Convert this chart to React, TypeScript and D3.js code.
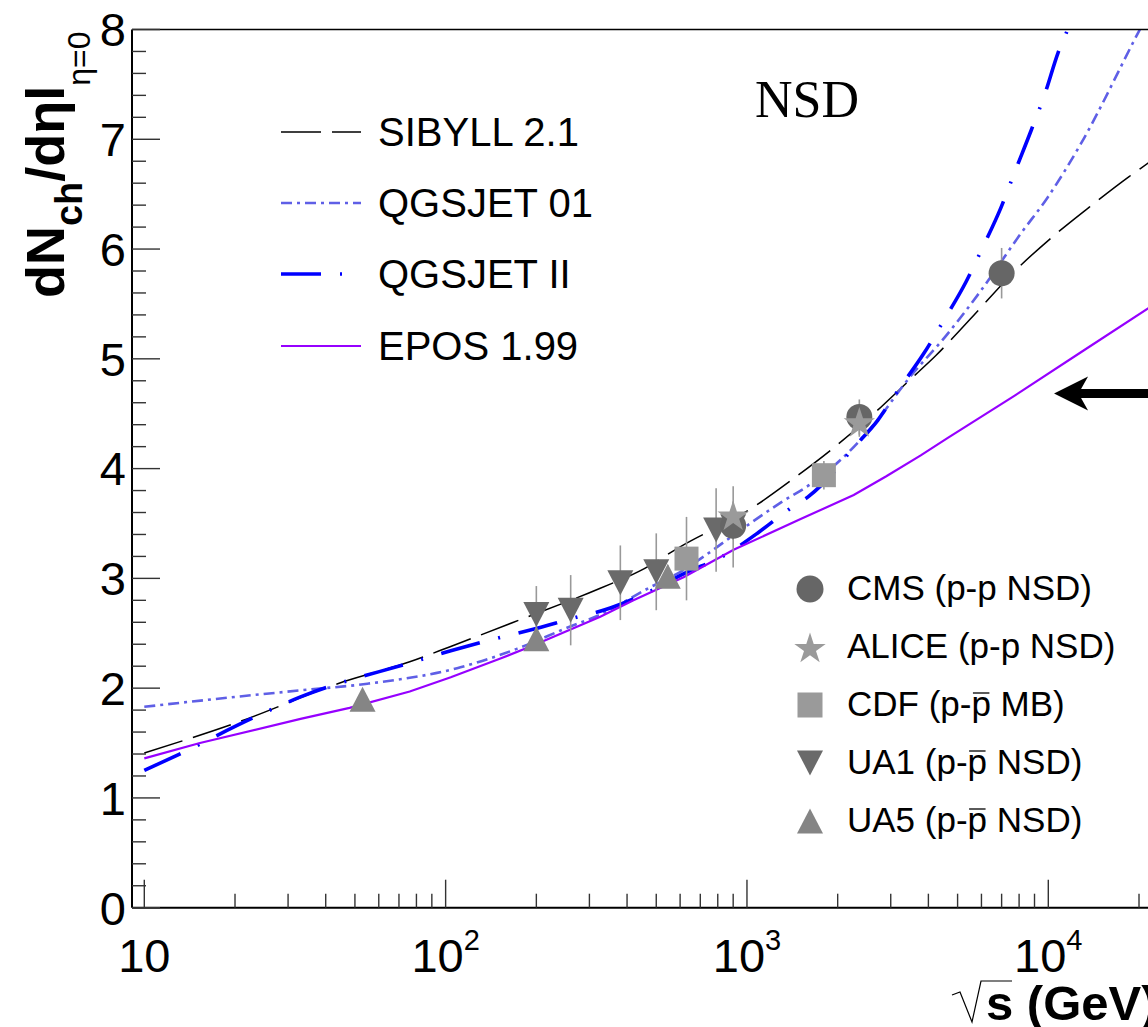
import React, { useLayoutEffect, useRef, useState } from "react";
import * as d3 from "d3";

const W = 1148;
const H = 1027;

// ---- model curves: [sqrt(s) GeV, dNch/deta] ----
const sibyll: [number, number][] = [
  [10, 1.41], [20, 1.68], [46, 2.06], [76, 2.24], [104, 2.38], [168, 2.6], [326, 2.91],
  [443, 3.07], [602, 3.29], [1052, 3.65], [1429, 3.91], [1941, 4.19], [2634, 4.5],
  [3445, 4.8], [4236, 5.03], [5500, 5.36], [7810, 5.81], [10210, 6.1], [13650, 6.38],
  [18540, 6.66], [21610, 6.79], [26000, 6.95],
];
const qgsjet01: [number, number][] = [
  [10, 1.83], [20, 1.92], [33, 1.98], [55, 2.04], [112, 2.19], [173, 2.36], [253, 2.55],
  [326, 2.67], [478, 2.92], [602, 3.06], [702, 3.18], [953, 3.44], [1294, 3.69], [1628, 3.86],
  [2047, 4.08], [2634, 4.4], [3418, 4.81], [4640, 5.23], [5970, 5.62], [8100, 6.14],
  [9950, 6.47], [12830, 6.96], [19860, 7.97], [24000, 8.4],
];
const qgsjet2: [number, number][] = [
  [10, 1.25], [13.1, 1.4], [23, 1.73], [33, 1.92], [76, 2.23], [104, 2.34], [141, 2.44],
  [191, 2.53], [259, 2.63], [352, 2.73], [467, 2.87], [635, 3.06], [817, 3.19], [1094, 3.42],
  [1365, 3.62], [1591, 3.74], [2001, 4.01], [2177, 4.14], [2716, 4.44], [3168, 4.71],
  [3865, 5.05], [4500, 5.35], [5330, 5.7], [6070, 6.02], [6970, 6.38], [7760, 6.71],
  [8770, 7.08], [9760, 7.42], [10780, 7.79], [11550, 7.99], [12800, 8.4],
];
const epos: [number, number][] = [
  [10, 1.36], [15.3, 1.5], [33, 1.72], [48, 1.82], [76, 1.97], [104, 2.1], [152, 2.27],
  [196, 2.39], [326, 2.65], [420, 2.8], [616, 3.01], [903, 3.26], [1507, 3.54], [2261, 3.76],
  [2900, 3.93], [3773, 4.12], [4640, 4.28], [7690, 4.66], [12830, 5.06], [21430, 5.46], [26000, 5.62],
];

// ---- data points: [sqrt(s), value, error] ----
const cms: [number, number, number][] = [[900, 3.48, 0.13], [2360, 4.47, 0.16], [7000, 5.78, 0.23]];
const alice: [number, number, number][] = [[900, 3.58, 0.12], [2360, 4.43, 0.14]];
const cdf: [number, number, number][] = [[630, 3.18, 0.38], [1800, 3.94, 0.13]];
const ua1: [number, number, number][] = [
  [200, 2.67, 0.26], [260, 2.71, 0.32], [380, 2.96, 0.34], [500, 3.06, 0.35], [790, 3.44, 0.38], [900, 3.47, 0.37],
];
const ua5: [number, number, number][] = [[53, 1.9, 0.05], [200, 2.45, 0.1], [546, 3.02, 0.1]];

const yMajor = [0, 1, 2, 3, 4, 5, 6, 7, 8];
const xMajor = [10, 100, 1000, 10000];
const xLabels = ["10", "10", "10", "10"];
const xExps = ["", "2", "3", "4"];

const modelLegend = ["SIBYLL 2.1", "QGSJET 01", "QGSJET II", "EPOS 1.99"];
const dataLegend = ["CMS (p-p NSD)", "ALICE (p-p NSD)", "CDF (p-", "UA1 (p-", "UA5 (p-"];
const dataLegendTail = ["", "", "p", "p", "p"];
const dataLegendEnd = ["", "", " MB)", " NSD)", " NSD)"];

const SANS = "'Liberation Sans', Arial, Helvetica, sans-serif";
const SERIF = "'Liberation Serif', 'Times New Roman', serif";

const left = 132;
const top = 29.5;
const bottom = 907.7;

const x = d3.scaleLog().domain([10, 10000]).range([144.3, 1048.3]);
const y = d3.scaleLinear().domain([0, 8]).range([bottom, top]);

const styles = [
  { color: "#000000", width: 1.5, dash: "40 11" },
  { color: "#5f5fe6", width: 2.6, dash: "11 5 3 5" },
  { color: "#0000ff", width: 3.6, dash: "40 19 2 19" },
  { color: "#9600ff", width: 2.2, dash: "" },
];

const C_CMS = "#666666";
const C_ALICE = "#9a9a9a";
const C_CDF = "#9a9a9a";
const C_UA1 = "#6a6a6a";
const C_UA5 = "#858585";

const starPath = d3.symbol(d3.symbolStar, (16.5 * 16.5) / 0.8908130915292852)();

function tri(cx: number, cy: number, up: boolean) {
  const hw = 13, hh = 12.5;
  return up
    ? `M${cx - hw},${cy + hh}L${cx + hw},${cy + hh}L${cx},${cy - hh}Z`
    : `M${cx - hw},${cy - hh}L${cx + hw},${cy - hh}L${cx},${cy + hh}Z`;
}

export default function App() {
  const lineSmooth = d3
    .line<[number, number]>()
    .x((d) => x(d[0]))
    .y((d) => y(d[1]))
    .curve(d3.curveMonotoneX);
  const lineLin = d3
    .line<[number, number]>()
    .x((d) => x(d[0]))
    .y((d) => y(d[1]));

  const curves = [sibyll, qgsjet01, qgsjet2, epos];

  const xMinor: number[] = [];
  for (let e = 1; e <= 4; e++) {
    for (let k = 2; k <= 9; k++) {
      const v = k * Math.pow(10, e);
      if (x(v) < W) xMinor.push(v);
    }
  }
  const yMinor: number[] = [];
  for (let i = 0; i <= 40; i++) {
    if (i % 5 !== 0) yMinor.push(i / 5);
  }

  const allPts = [...ua1, ...ua5, ...cdf, ...cms, ...alice];

  const legX = 810;
  const legY = [589, 647, 705, 763, 821];

  const textRefs = useRef<(SVGTextElement | null)[]>([]);
  const [bars, setBars] = useState<{ x1: number; x2: number; y: number }[]>([]);
  useLayoutEffect(() => {
    const out: { x1: number; x2: number; y: number }[] = [];
    dataLegend.forEach((t, i) => {
      const el = textRefs.current[i];
      if (!el || !dataLegendTail[i]) return;
      try {
        const ext = el.getExtentOfChar(t.length);
        out.push({ x1: ext.x + 1.5, x2: ext.x + ext.width - 1.5, y: legY[i] + 11 - 23 });
      } catch (e) {
        /* ignore */
      }
    });
    setBars(out);
  }, []);

  const arrowTip: [number, number] = [10450, 4.685];
  const ax = x(arrowTip[0]);
  const ay = y(arrowTip[1]);

  const titleX = 986;
  const titleY = 1020;

  return (
    <svg width={W} height={H} style={{ display: "block", position: "absolute", left: 0, top: 0, background: "#fff" }}>
      <defs>
        <clipPath id="plot">
          <rect x={left} y={top} width={W - left} height={bottom - top} />
        </clipPath>
      </defs>
      <rect x={0} y={0} width={W} height={H} fill="#fff" />

      <g clipPath="url(#plot)">
        {curves.map((c, i) => (
          <path
            key={i}
            d={(i === 3 ? lineLin : lineSmooth)(c) || ""}
            fill="none"
            stroke={styles[i].color}
            strokeWidth={styles[i].width}
            strokeDasharray={styles[i].dash || undefined}
          />
        ))}
      </g>

      <g stroke="#999" strokeWidth={1.6}>
        {allPts.map((p, i) => (
          <line key={i} x1={x(p[0])} x2={x(p[0])} y1={y(p[1] - p[2])} y2={y(p[1] + p[2])} />
        ))}
      </g>

      <g>
        {ua1.map((p, i) => (
          <path key={"u1" + i} d={tri(x(p[0]), y(p[1]), false)} fill={C_UA1} />
        ))}
        {ua5.map((p, i) => (
          <path key={"u5" + i} d={tri(x(p[0]), y(p[1]), true)} fill={C_UA5} />
        ))}
        {cdf.map((p, i) => (
          <rect key={"cd" + i} x={x(p[0]) - 12} y={y(p[1]) - 12} width={24} height={24} fill={C_CDF} />
        ))}
        {cms.map((p, i) => (
          <circle key={"cm" + i} cx={x(p[0])} cy={y(p[1])} r={13} fill={C_CMS} />
        ))}
        {alice.map((p, i) => (
          <path key={"al" + i} d={starPath || ""} transform={`translate(${x(p[0])},${y(p[1]) + 2})`} fill={C_ALICE} />
        ))}
      </g>

      <line x1={left} x2={W} y1={top} y2={top} stroke="#000" strokeWidth={1.5} />
      <line x1={left} x2={left} y1={top} y2={bottom} stroke="#000" strokeWidth={2} />
      <line x1={left} x2={W} y1={bottom} y2={bottom} stroke="#000" strokeWidth={2} />

      <g stroke="#333" strokeWidth={1.4}>
        {yMajor.map((v) => (
          <line key={"ym" + v} x1={left} x2={left + 28} y1={y(v)} y2={y(v)} />
        ))}
        {yMinor.map((v) => (
          <line key={"yn" + v} x1={left} x2={left + 14} y1={y(v)} y2={y(v)} />
        ))}
      </g>
      <g stroke="#333" strokeWidth={1.4}>
        {xMajor.map((v) => (
          <line key={"xm" + v} x1={x(v)} x2={x(v)} y1={bottom} y2={bottom - 28} />
        ))}
        {xMinor.map((v) => (
          <line key={"xn" + v} x1={x(v)} x2={x(v)} y1={bottom} y2={bottom - 14} />
        ))}
      </g>

      <g fontFamily={SANS} fontSize={47} textAnchor="end" fill="#000">
        {yMajor.map((v) => (
          <text key={"yl" + v} x={126} y={y(v) + 16.8}>
            {v}
          </text>
        ))}
      </g>

      <g fontFamily={SANS} fill="#000">
        {xMajor.map((v, i) => (
          <text key={"xl" + v} x={x(v)} y={972} fontSize={47} textAnchor="middle">
            {xLabels[i]}
            {xExps[i] && (
              <tspan fontSize={29} dy={-22}>
                {xExps[i]}
              </tspan>
            )}
          </text>
        ))}
      </g>

      <path
        d={`M${titleX - 34},${titleY - 25} L${titleX - 26},${titleY - 28} L${titleX - 14},${titleY + 2} L${titleX - 5},${titleY - 39} L${titleX + 26},${titleY - 39}`}
        fill="none"
        stroke="#000"
        strokeWidth={1.2}
      />
      <text x={titleX} y={titleY} fontFamily={SANS} fontWeight="bold" fontSize={49} fill="#000">
        s (GeV)
      </text>

      <text transform={`translate(64,298) rotate(-90)`} fontFamily={SANS} fontWeight="bold" fontSize={54} fill="#000">
        dN
        <tspan fontSize={38} dy={18}>
          ch
        </tspan>
        <tspan dy={-18}>/dηl</tspan>
        <tspan fontWeight="normal" fontSize={32} dy={26}>
          η=0
        </tspan>
      </text>

      <text x={755} y={117} fontFamily={SERIF} fontSize={52} fill="#000">
        NSD
      </text>

      {modelLegend.map((t, i) => {
        const ly = [132, 203, 274, 346][i];
        return (
          <g key={"ml" + i}>
            <line
              x1={281}
              x2={361}
              y1={ly}
              y2={ly}
              stroke={styles[i].color}
              strokeWidth={styles[i].width}
              strokeDasharray={styles[i].dash || undefined}
            />
            <text x={378} y={ly + 14} fontFamily={SANS} fontSize={40} fill="#000">
              {t}
            </text>
          </g>
        );
      })}

      <circle cx={legX} cy={legY[0]} r={13.5} fill={C_CMS} />
      <path d={starPath || ""} transform={`translate(${legX},${legY[1] + 2})`} fill={C_ALICE} />
      <rect x={legX - 12.5} y={legY[2] - 12.5} width={25} height={25} fill={C_CDF} />
      <path d={tri(legX, legY[3], false)} fill={C_UA1} />
      <path d={tri(legX, legY[4], true)} fill={C_UA5} />
      {dataLegend.map((t, i) => (
        <text
          key={"dl" + i}
          ref={(el) => {
            textRefs.current[i] = el;
          }}
          x={847}
          y={legY[i] + 11}
          fontFamily={SANS}
          fontSize={35}
          fill="#000"
        >
          {t + dataLegendTail[i] + dataLegendEnd[i]}
        </text>
      ))}
      {bars.map((b, i) => (
        <line key={"ob" + i} x1={b.x1} x2={b.x2} y1={b.y} y2={b.y} stroke="#000" strokeWidth={1.3} />
      ))}

      <path
        d={`M${ax},${ay} L${ax + 34},${ay - 17} L${ax + 27},${ay - 4.5} L${W + 5},${ay - 4.5} L${W + 5},${ay + 4.5} L${ax + 27},${ay + 4.5} L${ax + 34},${ay + 17} Z`}
        fill="#000"
      />
    </svg>
  );
}
